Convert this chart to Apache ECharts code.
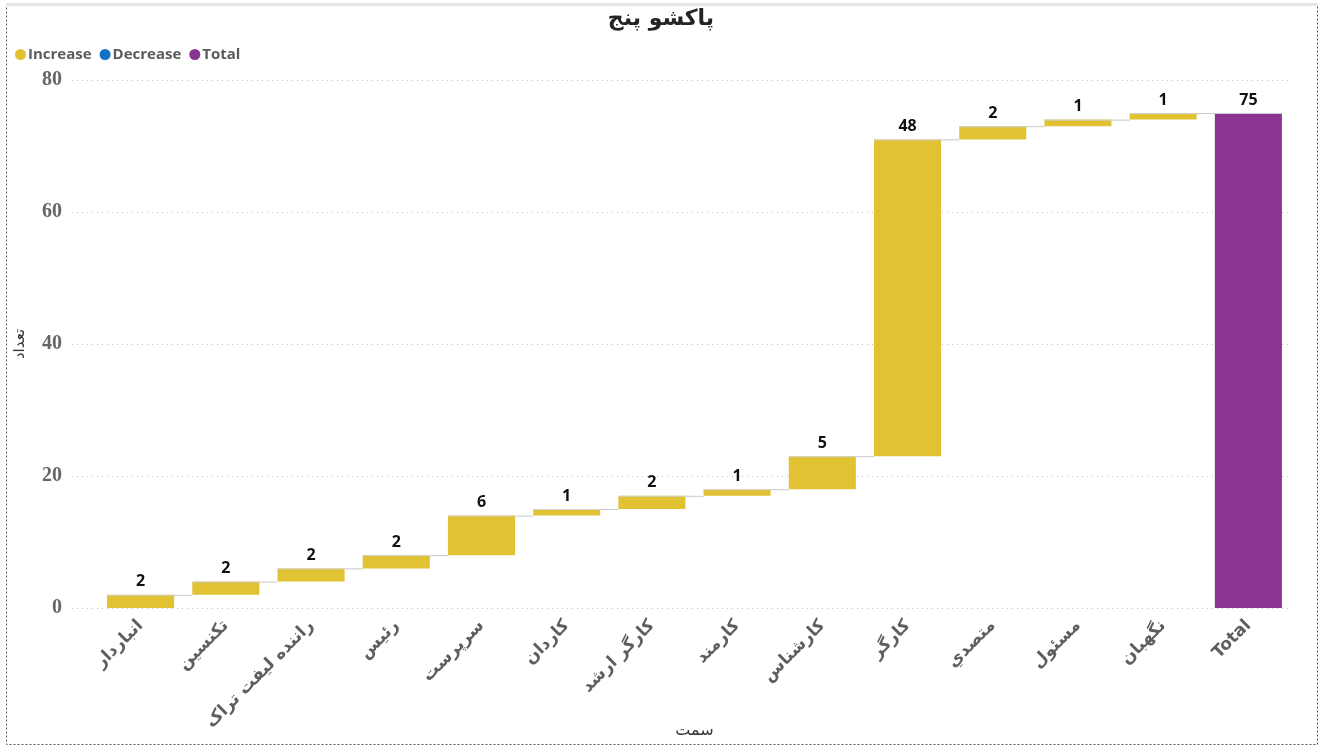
<!DOCTYPE html>
<html><head><meta charset="utf-8">
<script src="https://cdn.jsdelivr.net/npm/echarts@6/dist/echarts.min.js"></script>
<style>html,body{margin:0;padding:0;background:#fff}#c{width:1322px;height:747px}</style>
</head><body><div id="c"></div>
<script>
const titleText = 'پاکشو پنج';
const xAxisName = 'سمت';
const yAxisName = 'تعداد';
const categories = ['انباردار','تکنسین','راننده لیفت تراک','رئیس','سرپرست','کاردان','کارگر ارشد','کارمند','کارشناس','کارگر','متصدي','مسئول','نگهبان','Total'];
const increments = [2,2,2,2,6,1,2,1,5,48,2,1,1];
const totalValue = 75;
const yTicks = [0,20,40,60,80];

const COL_INC = '#E1C233', COL_DEC = '#1170C8', COL_TOT = '#8B3592';

// build waterfall rows from the arrays
const incData = [];
let cum = 0;
increments.forEach((v, i) => { incData.push([i, cum, cum + v, v]); cum += v; });
const totData = [[categories.length - 1, 0, totalValue, totalValue]];
const lastIdx = categories.length - 1;

function makeRender(color) {
  return function (params, api) {
    const i = api.value(0), s = api.value(1), e = api.value(2), v = api.value(3);
    const band = api.size([1, 0])[0];
    const bw = band * 0.787;
    const p0 = api.coord([i, s]), p1 = api.coord([i, e]);
    const x = p0[0] - bw / 2;
    const children = [{
      type: 'rect',
      shape: { x: x, y: p1[1], width: bw, height: p0[1] - p1[1] },
      style: { fill: color }
    }, {
      type: 'line',
      shape: { x1: x, y1: p1[1] + 0.5, x2: x + bw, y2: p1[1] + 0.5 },
      style: { stroke: '#d0d0d0', lineWidth: 1 }
    }, {
      type: 'text',
      style: { text: String(v), x: p0[0], y: p1[1] - 5, align: 'center', verticalAlign: 'bottom',
        font: 'bold 16px "Open Sans", sans-serif', fill: '#111' }
    }];
    if (i < lastIdx) {
      const nx = api.coord([i + 1, e])[0] - bw / 2;
      children.push({
        type: 'line',
        shape: { x1: x + bw, y1: p1[1] + 0.5, x2: nx, y2: p1[1] + 0.5 },
        style: { stroke: '#c8c8c8', lineWidth: 1 }
      });
    }
    return { type: 'group', children: children };
  };
}

const chart = echarts.init(document.getElementById('c'), null, { renderer: 'canvas' });
chart.setOption({
  backgroundColor: '#fff',
  animation: false,
  title: {
    text: titleText, left: 'center', top: 3,
    textStyle: { fontFamily: '"DejaVu Sans", sans-serif', fontWeight: 'bold', fontSize: 22, color: '#252423' }
  },
  legend: {
    left: 10, top: 42, itemGap: 8, itemWidth: 11, itemHeight: 11,
    icon: 'circle',
    textStyle: { fontFamily: '"Open Sans", sans-serif', fontWeight: 'bold', fontSize: 15, color: '#5b5b5b', padding: [0, 0, 0, -3] },
    data: ['Increase', 'Decrease', 'Total']
  },
  graphic: [{
    type: 'rect', shape: { x: 6.5, y: 5.5, width: 1311, height: 739 },
    style: { fill: 'none', stroke: '#555', lineWidth: 1, lineDash: [2, 2] }, silent: true, z: -10
  }, {
    type: 'line', shape: { x1: 6, y1: 4.5, x2: 1318, y2: 4.5 },
    style: { stroke: '#e6e6e6', lineWidth: 3 }, silent: true, z: -9
  }],
  grid: [
    { left: 98, right: 31, top: 80, bottom: 139, containLabel: false, outerBoundsMode: 'none' },
    { left: 72, right: 31, top: 80, bottom: 139, containLabel: false, outerBoundsMode: 'none' }
  ],
  xAxis: [{
    type: 'category', gridIndex: 0, data: categories,
    axisLine: { show: false }, axisTick: { show: false },
    axisLabel: { interval: 0, rotate: 45, margin: 15,
      fontFamily: '"DejaVu Sans", sans-serif', fontWeight: 'bold', fontSize: 17, color: '#605E5C' },
    name: xAxisName, nameLocation: 'middle', nameGap: 115, nameMoveOverlap: false,
    nameTextStyle: { fontFamily: '"DejaVu Sans", sans-serif', fontSize: 16, color: '#333' }
  }, {
    type: 'value', gridIndex: 1, show: false, min: 0, max: 1
  }],
  yAxis: [{
    type: 'value', gridIndex: 0, min: yTicks[0], max: yTicks[yTicks.length - 1], interval: 20,
    axisLine: { show: false }, axisTick: { show: false }, splitLine: { show: false },
    axisLabel: { margin: 36, fontFamily: '"Liberation Serif", serif', fontWeight: 'bold', fontSize: 20, color: '#666' },
    name: yAxisName, nameLocation: 'middle', nameGap: 70, nameMoveOverlap: false,
    nameTextStyle: { fontFamily: '"DejaVu Sans", sans-serif', fontSize: 15, color: '#333' }
  }, {
    type: 'value', gridIndex: 1, min: yTicks[0], max: yTicks[yTicks.length - 1], interval: 20,
    axisLine: { show: false }, axisTick: { show: false }, axisLabel: { show: false },
    splitLine: { show: true, lineStyle: { type: [1, 4], color: '#bdbdbd', width: 1 } }
  }],
  series: [{
    name: 'Increase', type: 'custom', xAxisIndex: 0, yAxisIndex: 0,
    itemStyle: { color: COL_INC }, renderItem: makeRender(COL_INC), data: incData,
    encode: { x: 0, y: [1, 2] }
  }, {
    name: 'Decrease', type: 'custom', xAxisIndex: 0, yAxisIndex: 0,
    itemStyle: { color: COL_DEC }, renderItem: makeRender(COL_DEC), data: []
  }, {
    name: 'Total', type: 'custom', xAxisIndex: 0, yAxisIndex: 0,
    itemStyle: { color: COL_TOT }, renderItem: makeRender(COL_TOT), data: totData,
    encode: { x: 0, y: [1, 2] }
  }]
});
</script></body></html>
